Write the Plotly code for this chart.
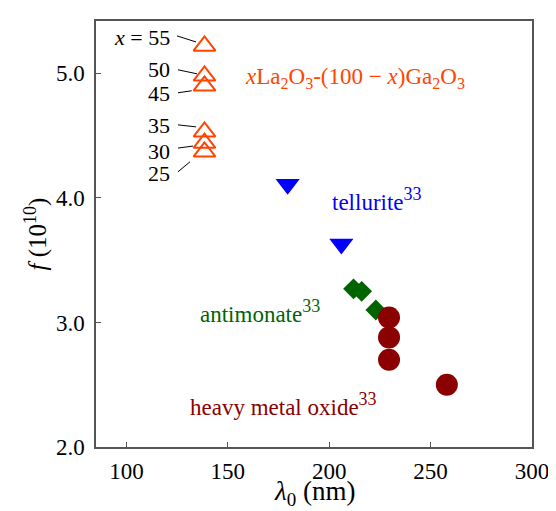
import plotly.graph_objects as go

# La2O3-Ga2O3 glasses
lg_x_content = [55, 50, 45, 35, 30, 25]
lg_lambda = [138.5, 138.5, 138.5, 138.5, 138.5, 138.5]
lg_f = [5.22, 4.98, 4.90, 4.53, 4.44, 4.37]

# tellurite
te_lambda = [179.5, 206]
te_f = [4.11, 3.63]

# antimonate
sb_lambda = [212, 216, 223]
sb_f = [3.27, 3.25, 3.10]

# heavy metal oxide
hm_lambda = [229.5, 229.5, 229.5, 258]
hm_f = [3.04, 2.88, 2.70, 2.50]

x_ticks = [100, 150, 200, 250, 300]
y_ticks = [2.0, 3.0, 4.0, 5.0]

FONT = "Liberation Serif"
ORANGE = "#FF4500"
BLUE = "#0000FF"
GREEN = "#006400"
DRED = "#8B0000"


def sup(t, size):
    return f"<sup><span style='font-size:{size}px'>{t}</span></sup>"


fig = go.Figure()
fig.add_trace(go.Scatter(x=lg_lambda, y=lg_f, mode="markers",
                         marker=dict(symbol="triangle-up-open", size=19, color=ORANGE,
                                     line=dict(width=2, color=ORANGE))))
fig.add_trace(go.Scatter(x=te_lambda, y=te_f, mode="markers",
                         marker=dict(symbol="triangle-down", size=21, color=BLUE)))
fig.add_trace(go.Scatter(x=sb_lambda, y=sb_f, mode="markers",
                         marker=dict(symbol="diamond", size=16, color=GREEN)))
fig.add_trace(go.Scatter(x=hm_lambda, y=hm_f, mode="markers",
                         marker=dict(symbol="circle", size=22, color=DRED)))

# leader labels for x content: (text shift y, line start dx, dy, line end dx, dy)
label_offsets = [
    (8, -27.5, 10, -8.5, 4),
    (6, -26.5, 6, -7.5, 2),
    (-8, -26.5, -7, -12.8, -5),
    (6, -26.5, 7, -8.5, 5),
    (-8, -26.5, -5, -11.5, -3),
    (-22, -26.5, -20, -14.5, -10),
]
for i, (xc, lam, fv) in enumerate(zip(lg_x_content, lg_lambda, lg_f)):
    ty, x0, y0, x1, y1 = label_offsets[i]
    txt = f"<i>x</i> = {xc}" if i == 0 else str(xc)
    fig.add_annotation(x=lam, y=fv, text=txt, showarrow=False, xanchor="right",
                       yanchor="middle", xshift=-32, yshift=ty,
                       font=dict(family=FONT, size=22, color="black"))
    fig.add_shape(type="line", xref="x", yref="y", xsizemode="pixel", ysizemode="pixel",
                  xanchor=lam, yanchor=fv, x0=x0, y0=y0, x1=x1, y1=y1,
                  line=dict(color="black", width=1))

fig.add_annotation(x=212.7, y=4.96, showarrow=False,
                   text="<i>x</i>La<sub>2</sub>O<sub>3</sub>-(100 − <i>x</i>)Ga<sub>2</sub>O<sub>3</sub>",
                   xanchor="center", yanchor="middle",
                   font=dict(family=FONT, size=23, color=ORANGE))
fig.add_annotation(x=223.6, y=3.99, showarrow=False, text="tellurite" + sup("33", 18),
                   xanchor="center", yanchor="middle",
                   font=dict(family=FONT, size=23, color=BLUE))
fig.add_annotation(x=166.1, y=3.09, showarrow=False, text="antimonate" + sup("33", 18),
                   xanchor="center", yanchor="middle",
                   font=dict(family=FONT, size=23, color=GREEN))
fig.add_annotation(x=177.7, y=2.34, showarrow=False, text="heavy metal oxide" + sup("33", 18),
                   xanchor="center", yanchor="middle",
                   font=dict(family=FONT, size=23, color=DRED))

# x-axis title placed below the tick labels
fig.add_annotation(x=0.5, y=0, xref="paper", yref="paper", showarrow=False,
                   text="<i>λ</i><sub><span style='font-size:19px'>0</span></sub> (nm)",
                   xanchor="center", yanchor="bottom", yshift=-64, borderpad=0,
                   font=dict(family=FONT, size=27, color="black"))

axis_common = dict(showgrid=False, zeroline=False, showline=True, linecolor="#555555",
                   linewidth=1.5, mirror=True, ticks="inside", ticklen=5, tickwidth=1,
                   tickcolor="#555555", automargin=False,
                   tickfont=dict(family=FONT, size=23, color="black"))

fig.update_xaxes(range=[85, 300], tickvals=x_ticks, ticktext=[str(v) for v in x_ticks],
                 ticklabelstandoff=3, **axis_common)
fig.update_yaxes(range=[2.0, 5.42], tickvals=y_ticks, ticktext=[f"{v:.1f}" for v in y_ticks],
                 ticklabelstandoff=5,
                 title=dict(text="<i>f</i> (10" + sup("10", 18) + ")",
                            font=dict(family=FONT, size=25, color="black"), standoff=2),
                 **axis_common)

# the page body adds an 8px margin, so the figure is 8px smaller and shifted
fig.update_layout(width=548, height=503, margin=dict(l=88, r=24, t=13, b=64),
                  plot_bgcolor="white", paper_bgcolor="white", showlegend=False)

fig.write_html("out.html")
